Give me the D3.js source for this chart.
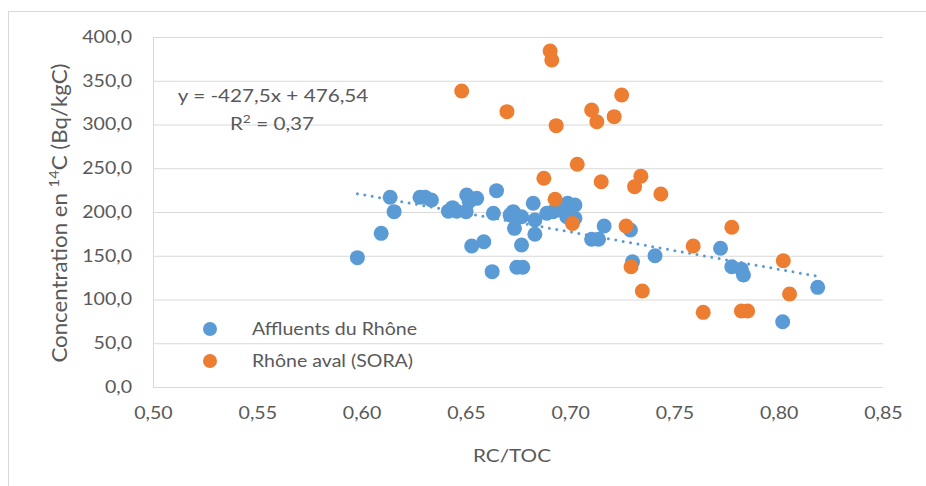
<!DOCTYPE html>
<html>
<head>
<meta charset="utf-8">
<script src="https://cdn.jsdelivr.net/npm/d3@7"></script>
<style>
  body { margin: 0; background: #fff; }
  text { font-family: Lato, "Open Sans", sans-serif; fill: #595959; }
</style>
</head>
<body>
<div id="container"></div>
<script>
'use strict'

// series 1 : Affluents du Rhône
const affluentsX = [0.5980,0.6094,0.6137,0.6156,0.6280,0.6305,0.6335,0.6416,0.6436,0.6456,0.6501,0.6504,0.6552,0.6516,0.6528,0.6586,0.6647,0.6632,0.6626,0.6712,0.6727,0.6767,0.6733,0.6767,0.6744,0.6773,0.6823,0.6831,0.6831,0.6888,0.6918,0.6948,0.6988,0.7023,0.6984,0.7023,0.7163,0.7103,0.7136,0.7289,0.7299,0.7407,0.7721,0.7775,0.7821,0.7831,0.8019,0.8187];
const affluentsY = [147.8,175.6,216.8,200.4,216.8,216.8,213.7,201,205,201,200.4,219.4,215.6,212,161.1,166,224.4,198.5,131.8,196.6,200.4,194.6,181.3,162.3,136.8,136.8,210,190.9,174.5,198.5,200.4,202.3,210,208,194.6,192.8,184,168.8,168.8,179.4,143.2,150,158.5,137.5,134.5,128,74.6,113.9];

// series 2 : Rhône aval (SORA)
const soraX = [0.6904,0.6912,0.6480,0.6697,0.7247,0.7103,0.7128,0.7211,0.6933,0.7034,0.6874,0.7149,0.7309,0.7339,0.7435,0.6928,0.7011,0.7268,0.7292,0.7346,0.7590,0.7775,0.8022,0.8052,0.7638,0.7821,0.7851];
const soraY = [384,373.7,338.3,314.7,333.7,316.6,303.2,309,298.7,254.5,238.5,234.6,229,241,220.6,214.5,187,184,137.5,109.7,161.1,182.5,144.3,106.3,85.3,86.9,86.9];

const seriesNames = ["Affluents du Rhône", "Rhône aval (SORA)"];
const xTicks = [0.50,0.55,0.60,0.65,0.70,0.75,0.80,0.85];
const yTicks = [0,50,100,150,200,250,300,350,400];
const trendSlope = -427.5, trendIntercept = 476.54;

const width = 926, height = 486;
const blue = "#5B9BD5", orange = "#ED7D31";
const sx = 1.15; // text looks a bit wide in the original
const comma = s => s.replace(".", ",");

const svg = d3.select("#container").append("svg")
    .attr("width", width).attr("height", height);

// chart border
svg.append("rect").attr("x", 8.5).attr("y", 11.5).attr("width", 940).attr("height", 500)
    .attr("fill", "none").attr("stroke", "#d9d9d9");

const x = d3.scaleLinear().domain([0.5, 0.85]).range([153, 883]);
const y = d3.scaleLinear().domain([0, 400]).range([387, 37]);

// gridlines
svg.append("g").selectAll("line").data(yTicks).enter().append("line")
    .attr("x1", x(0.5)).attr("x2", x(0.85))
    .attr("y1", d => y(d) + 0.5).attr("y2", d => y(d) + 0.5)
    .attr("stroke", "#d9d9d9").attr("stroke-width", 1);

// y axis line
svg.append("line").attr("x1", x(0.5) + 0.5).attr("x2", x(0.5) + 0.5)
    .attr("y1", y(400)).attr("y2", y(0)).attr("stroke", "#d9d9d9");

const yAxis = svg.append("g").attr("transform", `translate(${x(0.5)},0)`)
    .call(d3.axisLeft(y).tickValues(yTicks).tickSize(0).tickFormat(d => comma(d3.format(".1f")(d))));
yAxis.select(".domain").remove();
yAxis.selectAll("text").attr("x", 0).attr("transform", `translate(-21,0) scale(${sx},1)`)
    .style("font-size", "17px").attr("fill", "#595959").style("font-family", "Lato");

const xAxis = svg.append("g").attr("transform", `translate(0,${y(0)})`)
    .call(d3.axisBottom(x).tickValues(xTicks).tickSize(0).tickFormat(d => comma(d3.format(".2f")(d))));
xAxis.select(".domain").remove();
xAxis.selectAll("text").attr("y", 0).attr("transform", `translate(0,20) scale(${sx},1)`)
    .style("font-size", "17px").attr("fill", "#595959").style("font-family", "Lato");

// axis titles
svg.append("text").attr("transform", `translate(512,462) scale(${sx},1)`).attr("text-anchor", "middle")
    .style("font-size", "18px").text("RC/TOC");

const yt = svg.append("text").attr("transform", "translate(67,213) rotate(-90) scale(1.06,1)")
    .attr("text-anchor", "middle").style("font-size", "21px");
yt.append("tspan").text("Concentration en ");
yt.append("tspan").attr("dy", -8).style("font-size", "14px").text("14");
yt.append("tspan").attr("dy", 8).text("C (Bq/kgC)");

// trendline
const tx = d3.extent(affluentsX);
svg.append("line")
    .attr("x1", x(tx[0])).attr("y1", y(trendSlope * tx[0] + trendIntercept))
    .attr("x2", x(tx[1])).attr("y2", y(trendSlope * tx[1] + trendIntercept))
    .attr("stroke", blue).attr("stroke-width", 3)
    .attr("stroke-linecap", "round").attr("stroke-dasharray", "0,7.5");

// markers
const affl = affluentsX.map((v, i) => ({x: v, y: affluentsY[i]}));
const sora = soraX.map((v, i) => ({x: v, y: soraY[i]}));

svg.append("g").selectAll("circle").data(affl).enter().append("circle")
    .attr("cx", d => x(d.x)).attr("cy", d => y(d.y)).attr("r", 7.5).attr("fill", blue);
svg.append("g").selectAll("circle").data(sora).enter().append("circle")
    .attr("cx", d => x(d.x)).attr("cy", d => y(d.y)).attr("r", 7.5).attr("fill", orange);

// equation
svg.append("text").attr("transform", `translate(273,102) scale(${sx},1)`).attr("text-anchor", "middle")
    .style("font-size", "18px").text("y = -427,5x + 476,54");
const r2 = svg.append("text").attr("transform", `translate(272,130) scale(${sx},1)`).attr("text-anchor", "middle")
    .style("font-size", "18px");
r2.append("tspan").text("R");
r2.append("tspan").attr("dy", -7).style("font-size", "12px").text("2");
r2.append("tspan").attr("dy", 7).text(" = 0,37");

// legend
const legend = svg.append("g").selectAll("g").data(seriesNames).enter().append("g")
    .attr("transform", (d, i) => `translate(210,${329 + i * 32})`);
legend.append("circle").attr("r", 7).attr("fill", (d, i) => i ? orange : blue);
legend.append("text").attr("transform", `translate(42,6) scale(${sx},1)`).style("font-size", "17px").text(d => d);
</script>
</body>
</html>
